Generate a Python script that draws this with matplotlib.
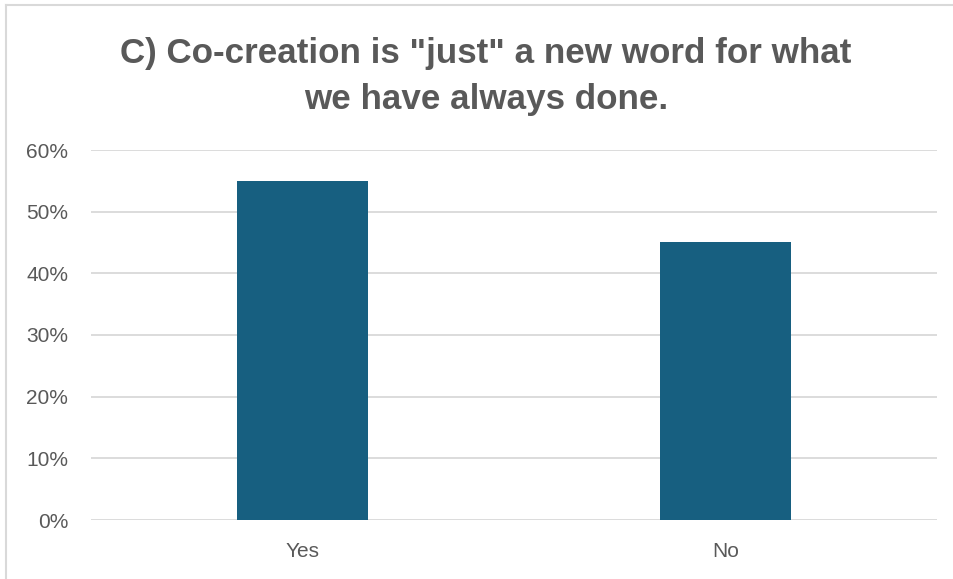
import matplotlib
matplotlib.use("Agg")
import matplotlib.pyplot as plt
from matplotlib.lines import Line2D
from matplotlib.ticker import FuncFormatter

# 数据
categories = ["Yes", "No"]
shares = [0.55, 0.45]
y_ticks = [0.0, 0.1, 0.2, 0.3, 0.4, 0.5, 0.6]
title = 'C) Co-creation is "just" a new word for what\nwe have always done.'

W, H = 954, 579
fig = plt.figure(figsize=(W / 100, H / 100), dpi=100)

# 绘图区: 网格线 x 91~937, y 150(60%)~520(0%)
ax = fig.add_axes([91 / W, 1 - 520 / H, (937 - 91) / W, (520 - 150) / H])
ax.bar(categories, shares, width=0.312, color="#175F80", zorder=3)
ax.set_xlim(-0.5, 1.5)
ax.set_ylim(0, 0.6)
ax.set_yticks(y_ticks)
ax.yaxis.set_major_formatter(FuncFormatter(lambda v, _: f"{v * 100:.0f}%"))
ax.grid(axis="y", color="#D9D9D9", linewidth=1.3, zorder=0)
for s in ax.spines.values():
    s.set_visible(False)
ax.tick_params(axis="both", length=0, labelsize=15, colors="#595959")
ax.tick_params(axis="y", pad=16.5)
ax.tick_params(axis="x", pad=16)
for lbl in ax.get_xticklabels() + ax.get_yticklabels():
    lbl.set_family(["Liberation Sans", "DejaVu Sans"])

# 标题
fig.text(486 / W, 1 - 76.5 / H, title, ha="center", va="center",
         fontsize=25.2, fontweight="bold", color="#595959",
         family=["Liberation Sans", "DejaVu Sans"],
         linespacing=1.53)

# 外框 (只见上边和左边)
fig.add_artist(Line2D([6 / W, 1], [1 - 5 / H, 1 - 5 / H], color="#D9D9D9", linewidth=1.5))
fig.add_artist(Line2D([6 / W, 6 / W], [0, 1 - 5 / H], color="#D9D9D9", linewidth=1.5))

fig.savefig("out.png", dpi=100, facecolor="white")
